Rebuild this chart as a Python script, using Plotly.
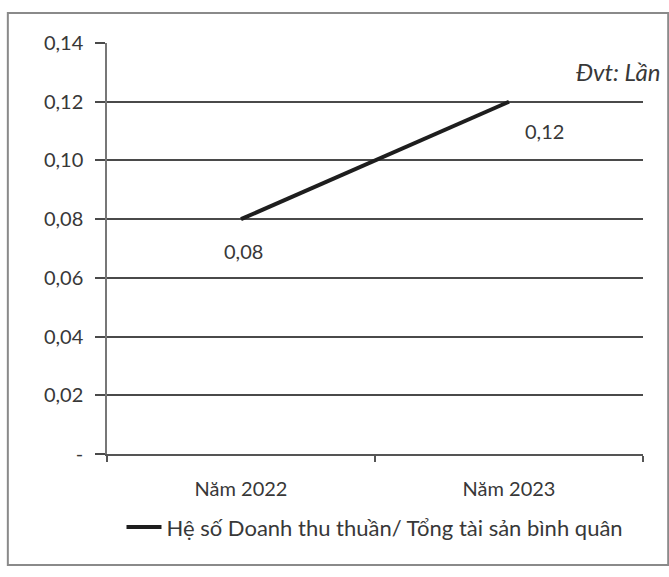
import plotly.graph_objects as go

# Asset turnover ratio by year
years = ["Năm 2022", "Năm 2023"]
ratio = [0.08, 0.12]
ratio_labels = ["0,08", "0,12"]
series_name = "Hệ số Doanh thu thuần/ Tổng tài sản bình quân"
unit_note = "Đvt: Lần"
y_ticks = [0, 0.02, 0.04, 0.06, 0.08, 0.10, 0.12, 0.14]
y_tick_text = ["-", "0,02", "0,04", "0,06", "0,08", "0,10", "0,12", "0,14"]

FONT = "Lato, Carlito, 'Liberation Sans', sans-serif"
TXT = "#383838"

fig = go.Figure()
fig.add_trace(go.Scatter(
    x=years, y=ratio, mode="lines", name=series_name,
    line=dict(color="#1e1e1e", width=4),
))

# value labels beside each point
label_offsets = [(2, -32), (35, -29)]
for yr, v, txt, (dx, dy) in zip(years, ratio, ratio_labels, label_offsets):
    fig.add_annotation(x=yr, y=v, text=txt, showarrow=False,
                       xshift=dx, yshift=dy,
                       font=dict(family=FONT, size=20, color=TXT))

# unit note at top right
fig.add_annotation(xref="paper", yref="paper", x=1.037, y=0.93,
                   text="<i>" + unit_note + "</i>", showarrow=False,
                   xanchor="right", yanchor="middle",
                   font=dict(family=FONT, size=24, color=TXT))

# outer chart frame
fig.add_shape(type="rect", xref="paper", yref="paper",
              x0=-0.185, x1=1.047, y0=-0.27, y1=1.073,
              line=dict(color="#8a8a8a", width=2), layer="below")

fig.update_layout(
    width=669, height=577,
    margin=dict(l=107, r=26, t=43, b=123),
    paper_bgcolor="white", plot_bgcolor="white",
    font=dict(family=FONT, size=20, color=TXT),
    showlegend=True,
    legend=dict(orientation="h", x=0.5, xanchor="center",
                y=-0.178, yanchor="middle",
                font=dict(family=FONT, size=22, color=TXT),
                itemwidth=35),
)
fig.update_xaxes(
    type="category", range=[-0.5, 1.5], showgrid=False,
    showline=True, linecolor="#555555", linewidth=2,
    ticks="outside", tickson="boundaries", ticklen=6,
    tickcolor="#555555", tickwidth=1.5,
    ticklabelstandoff=16,
    tickfont=dict(family=FONT, size=20, color=TXT),
)
fig.update_yaxes(
    range=[0, 0.14], tickvals=y_ticks, ticktext=y_tick_text,
    showgrid=True, gridcolor="#4a4a4a", gridwidth=1.5,
    showline=True, linecolor="#777777", linewidth=1.5,
    ticks="outside", ticklen=10, tickcolor="#4a4a4a", tickwidth=1.5,
    ticklabelstandoff=8,
    zeroline=False,
    tickfont=dict(family=FONT, size=20, color=TXT),
)

fig.write_html("out.html")
